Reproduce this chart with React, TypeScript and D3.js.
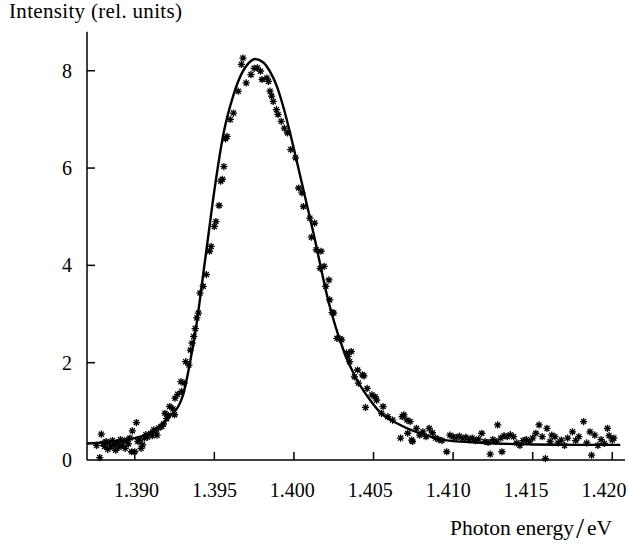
import React from "react";
import * as d3 from "d3";

// Fitted curve (photon energy in eV, intensity in rel. units)
const fitEnergy = [1.387, 1.388, 1.389, 1.39, 1.3911, 1.3921, 1.393, 1.39316, 1.39358, 1.39373, 1.39442, 1.39505, 1.39557, 1.3962, 1.39673, 1.39714, 1.39756, 1.39808, 1.3985, 1.39893, 1.39934, 1.39976, 1.40018, 1.40123, 1.4022, 1.40311, 1.40395, 1.40468, 1.40542, 1.40668, 1.40856, 1.4092, 1.412, 1.415, 1.418, 1.4205];
const fitIntensity = [0.34, 0.36, 0.4, 0.45, 0.58, 0.86, 1.3, 1.5, 2.2, 2.47, 4.11, 5.65, 6.7, 7.5, 7.95, 8.15, 8.24, 8.17, 7.98, 7.68, 7.25, 6.72, 6.14, 4.66, 3.22, 2.26, 1.65, 1.28, 0.98, 0.72, 0.48, 0.42, 0.35, 0.32, 0.31, 0.31];

// Measured points
const pointEnergy = [1.3878, 1.3879, 1.3876, 1.388, 1.3881, 1.3882, 1.3883, 1.3884, 1.3885, 1.3886, 1.3887, 1.3888, 1.3889, 1.389, 1.3891, 1.3892, 1.3893, 1.3894, 1.3895, 1.3896, 1.3897, 1.3898, 1.38985, 1.39, 1.3901, 1.3902, 1.3903, 1.3904, 1.3905, 1.3906, 1.3907, 1.3908, 1.391, 1.3911, 1.3912, 1.3913, 1.3914, 1.3915, 1.3917, 1.3918, 1.3919, 1.392, 1.3921, 1.3922, 1.3924, 1.3925, 1.39253, 1.3927, 1.3929, 1.39295, 1.3931, 1.3932, 1.3934, 1.3935, 1.3936, 1.3937, 1.3938, 1.3939, 1.394, 1.3941, 1.3943, 1.3945, 1.3947, 1.3948, 1.395, 1.3951, 1.3953, 1.3954, 1.3955, 1.3956, 1.3957, 1.3958, 1.396, 1.3962, 1.3965, 1.3967, 1.3968, 1.397, 1.3973, 1.3975, 1.3977, 1.3979, 1.398, 1.3983, 1.3984, 1.3985, 1.3986, 1.3987, 1.3989, 1.399, 1.3992, 1.3994, 1.3996, 1.3998, 1.4001, 1.4003, 1.4005, 1.4006, 1.401, 1.4011, 1.4013, 1.4014, 1.4017, 1.40165, 1.4019, 1.402, 1.4022, 1.40225, 1.4024, 1.4025, 1.4027, 1.4029, 1.403, 1.4033, 1.4034, 1.4035, 1.4036, 1.4038, 1.404, 1.40405, 1.4043, 1.4044, 1.4045, 1.4046, 1.4049, 1.4051, 1.4052, 1.4055, 1.4056, 1.4059, 1.4062, 1.4067, 1.4068, 1.4069, 1.4071, 1.40715, 1.4073, 1.4074, 1.40745, 1.4077, 1.4079, 1.4081, 1.4083, 1.4085, 1.4087, 1.4089, 1.4091, 1.4093, 1.4096, 1.4098, 1.41, 1.4102, 1.4104, 1.4106, 1.4108, 1.411, 1.4112, 1.4114, 1.4116, 1.4118, 1.412, 1.4122, 1.41233, 1.4125, 1.4127, 1.4128, 1.413, 1.41307, 1.4132, 1.4134, 1.4136, 1.4138, 1.414, 1.4142, 1.4144, 1.4146, 1.4148, 1.415, 1.4152, 1.4154, 1.4156, 1.4158, 1.4159, 1.4161, 1.4162, 1.4164, 1.4166, 1.4168, 1.417, 1.4172, 1.4175, 1.4177, 1.4179, 1.4182, 1.4184, 1.4186, 1.4187, 1.4189, 1.4191, 1.4193, 1.4195, 1.4197, 1.4198, 1.42, 1.4201];
const pointIntensity = [0.05, 0.53, 0.3, 0.34, 0.28, 0.38, 0.22, 0.35, 0.27, 0.4, 0.31, 0.2, 0.36, 0.26, 0.42, 0.3, 0.38, 0.24, 0.41, 0.33, 0.45, 0.17, 0.6, 0.17, 0.77, 0.38, 0.41, 0.24, 0.31, 0.45, 0.52, 0.47, 0.55, 0.5, 0.62, 0.58, 0.51, 0.66, 0.69, 0.74, 0.96, 0.85, 0.92, 1.1, 1.05, 0.93, 1.27, 1.35, 1.61, 1.41, 1.58, 2.02, 1.95, 2.26, 2.4, 2.54, 2.7, 2.92, 3.02, 3.43, 3.57, 3.81, 4.29, 4.39, 4.8, 4.9, 5.23, 5.73, 5.77, 6.03, 6.6, 6.65, 7.0, 7.13, 7.58, 8.13, 8.26, 7.75, 7.92, 8.05, 8.06, 7.99, 7.82, 7.85, 7.78, 7.58, 7.48, 7.37, 7.2, 7.1, 6.96, 6.82, 6.72, 6.38, 6.21, 5.59, 5.49, 5.21, 4.97, 4.58, 4.87, 4.32, 4.29, 3.94, 3.98, 3.57, 3.7, 3.29, 3.03, 3.02, 2.5, 2.49, 2.47, 2.2, 2.13, 2.02, 2.23, 1.71, 1.85, 1.58, 1.75, 1.73, 1.08, 1.47, 1.34, 1.3, 1.23, 0.96, 1.1, 0.89, 0.82, 0.45, 0.89, 0.93, 0.82, 0.55, 0.79, 0.41, 0.38, 0.65, 0.51, 0.58, 0.48, 0.65, 0.56, 0.45, 0.42, 0.4, 0.17, 0.51, 0.48, 0.46, 0.49, 0.44, 0.47, 0.42, 0.45, 0.4, 0.43, 0.55, 0.38, 0.36, 0.12, 0.42, 0.38, 0.72, 0.45, 0.17, 0.5, 0.48, 0.52, 0.48, 0.35, 0.3, 0.4, 0.42, 0.38, 0.45, 0.55, 0.72, 0.48, 0.03, 0.65, 0.38, 0.51, 0.48, 0.35, 0.41, 0.3, 0.45, 0.58, 0.4, 0.48, 0.79, 0.35, 0.58, 0.1, 0.51, 0.3, 0.42, 0.34, 0.65, 0.5, 0.41, 0.45];

const xTicks = [1.39, 1.395, 1.4, 1.405, 1.41, 1.415, 1.42];
const xTickLabels = ["1.390", "1.395", "1.400", "1.405", "1.410", "1.415", "1.420"];
const yTicks = [0, 2, 4, 6, 8];

const W = 629;
const H = 545;
const FONT = "Liberation Serif";

// eight-armed asterisk marker
const R = 3.6;
const STAR = [0, 45, 90, 135]
  .map((a) => {
    const r = (a * Math.PI) / 180;
    const dx = R * Math.cos(r);
    const dy = R * Math.sin(r);
    return `M${-dx},${-dy}L${dx},${dy}`;
  })
  .join("");

export default function App() {
  const x = d3.scaleLinear().domain([1.387, 1.4208]).range([87, 625]);
  const y = d3.scaleLinear().domain([0, 8.8]).range([460, 31.8]);
  // tick labels sit on a slightly compressed row
  const xLab = d3.scaleLinear().domain([1.39, 1.42]).range([136.5, 604]);

  const fit = fitEnergy.map((e, i) => [e, fitIntensity[i]] as [number, number]);
  const line = d3
    .line<[number, number]>()
    .x((d) => x(d[0]))
    .y((d) => y(d[1]))
    .curve(d3.curveMonotoneX);

  const [x0, x1] = x.range();
  const [y0, y1] = y.range();
  const txt = { fontFamily: FONT };

  return (
    <svg
      width={W}
      height={H}
      style={{ position: "absolute", left: 0, top: 0, background: "#fff" }}
    >
      <rect width={W} height={H} fill="#fff" />
      <g stroke="#000" strokeWidth={1.3} fill="none">
        {pointEnergy.map((e, i) => (
          <path key={i} d={STAR} transform={`translate(${x(e)},${y(pointIntensity[i])})`} />
        ))}
      </g>
      <path d={line(fit) || ""} fill="none" stroke="#000" strokeWidth={2.4} />
      <g stroke="#000" strokeWidth={1.5} fill="none">
        <line x1={x0} x2={x0} y1={y0} y2={y1} />
        <line x1={x0} x2={x1} y1={y0} y2={y0} />
        {yTicks.filter((t) => t > 0).map((t) => (
          <line key={t} x1={x0} x2={x0 + 8} y1={y(t)} y2={y(t)} />
        ))}
        {xTicks.map((t) => (
          <line key={t} x1={x(t)} x2={x(t)} y1={y0} y2={y0 - 8} />
        ))}
      </g>
      <g fontSize={20} fill="#000">
        {yTicks.map((t) => (
          <text key={t} x={72} y={y(t) + 7} textAnchor="end" style={txt}>
            {t}
          </text>
        ))}
        {xTicks.map((t, i) => (
          <text key={t} x={xLab(t)} y={497} textAnchor="middle" style={txt} textLength={45} lengthAdjust="spacing">
            {xTickLabels[i]}
          </text>
        ))}
      </g>
      <text x={9} y={18} fontSize={21} fill="#000" style={txt} textLength={173} lengthAdjust="spacing">
        Intensity (rel. units)
      </text>
      <text x={450} y={535} fontSize={21.5} fill="#000" style={txt} textLength={124} lengthAdjust="spacing">
        Photon energy
      </text>
      <text x={576} y={538} fontSize={29} fill="#000" style={txt}>
        /
      </text>
      <text x={587} y={535} fontSize={21.5} fill="#000" style={txt}>
        eV
      </text>
    </svg>
  );
}
